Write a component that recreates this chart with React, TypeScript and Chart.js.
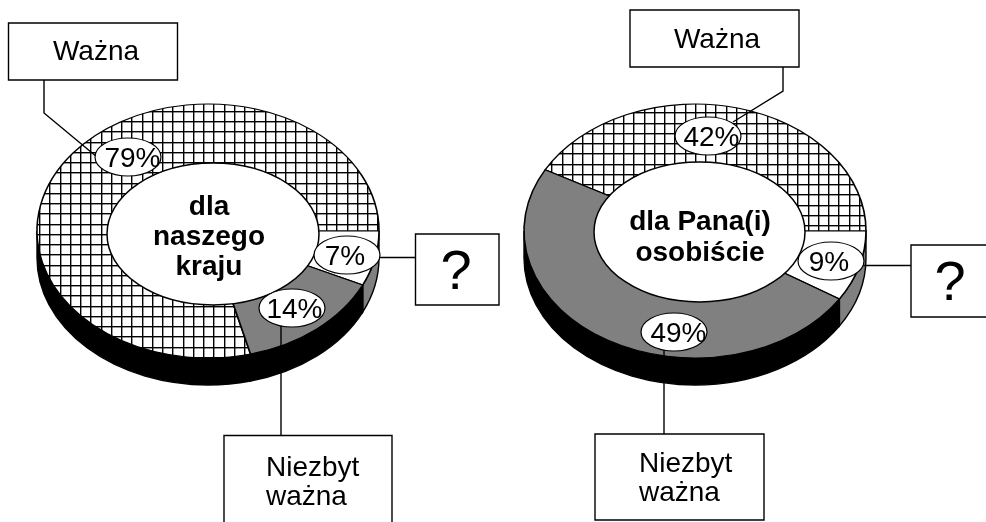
import React, { useEffect, useRef } from "react";
import { Chart, registerables } from "chart.js";

Chart.register(...registerables);

const categories = ["Ważna", "?", "Niezbyt ważna"];
const countryValues = [79, 7, 14];
const personalValues = [42, 9, 49];
const countryTitle = ["dla", "naszego", "kraju"];
const personalTitle = ["dla Pana(i)", "osobiście"];
const sideColors = ["#000000", "#808080", "#000000"];

const FONT = '"Liberation Sans", Arial, sans-serif';
const W = 986;
const H = 522;
const K = 127 / 171;
const DEPTH = 27;

type Callout = {
  pill: [number, number];
  pillTextX: number;
  box: [number, number, number, number];
  text: [number, number];
  align: CanvasTextAlign;
  size: number;
  leader: [number, number][];
};

const countryLayout = {
  cx: 208,
  cy: 231,
  hole: [213, 234, 106, 71],
  titleX: 209,
  titleY: [215, 245, 275],
  phase: [29, 29],
  callouts: [
    { pill: [128, 157], pillTextX: 132.5, box: [8.5, 23, 169, 57], text: [96, 60], align: "center", size: 28, leader: [[44, 80], [44, 113], [97, 157]] },
    { pill: [347, 255], pillTextX: 345, box: [415.5, 234, 83.5, 71], text: [456, 289], align: "center", size: 56, leader: [[378, 257.5], [416, 257.5]] },
    { pill: [292, 308], pillTextX: 294.5, box: [224, 435.5, 168, 120], text: [266, 476], align: "left", size: 28, leader: [[281, 326], [281, 436]] },
  ] as Callout[],
};

const personalLayout = {
  cx: 695,
  cy: 231,
  hole: [699.5, 232, 105.5, 70],
  titleX: 700,
  titleY: [230, 261],
  phase: [39, 10],
  callouts: [
    { pill: [708, 136], pillTextX: 711.5, box: [630, 10, 169, 57], text: [717, 48], align: "center", size: 28, leader: [[783, 67], [783, 91], [733, 122]] },
    { pill: [831, 261], pillTextX: 829, box: [911, 245, 100, 72], text: [950, 300], align: "center", size: 56, leader: [[862, 265.5], [911, 265.5]] },
    { pill: [674, 332], pillTextX: 678.5, box: [595, 434, 169, 86], text: [639, 472], align: "left", size: 28, leader: [[664, 350], [664, 434]] },
  ] as Callout[],
};

function makeHatch(ctx: CanvasRenderingContext2D, L: typeof countryLayout) {
  const tile = document.createElement("canvas");
  tile.width = 41;
  tile.height = 41;
  const t = tile.getContext("2d")!;
  t.fillStyle = "#ffffff";
  t.fillRect(0, 0, 41, 41);
  t.fillStyle = "#000000";
  [0, 10, 20, 31].forEach((p) => {
    t.fillRect(p, 0, 1.4, 41);
    t.fillRect(0, p, 41, 1.4);
  });
  const pattern = ctx.createPattern(tile, "repeat")!;
  pattern.setTransform(
    new DOMMatrix()
      .translate(L.cx, L.cy)
      .scale(1, 1 / K)
      .translate(-L.cx, -L.cy)
      .translate(L.phase[0], L.phase[1])
  );
  return pattern;
}

function drawBox(ctx: CanvasRenderingContext2D, c: Callout, lines: string[]) {
  ctx.strokeStyle = "#000";
  ctx.lineWidth = 1.4;
  ctx.fillStyle = "#fff";
  ctx.beginPath();
  ctx.rect(c.box[0], c.box[1], c.box[2], c.box[3]);
  ctx.fill();
  ctx.stroke();
  ctx.fillStyle = "#000";
  ctx.font = `${c.size}px ${FONT}`;
  ctx.textAlign = c.align;
  ctx.textBaseline = "alphabetic";
  lines.forEach((l, i) => ctx.fillText(l, c.text[0], c.text[1] + i * 29));
}

const ringPlugin = {
  id: "ring",
  beforeDatasetsDraw(chart: any, _a: any, o: any) {
    const L = o.layout;
    const ctx: CanvasRenderingContext2D = chart.ctx;
    const arcs = chart.getDatasetMeta(0).data;
    const r = 171;
    const ry = r * K;
    ctx.save();
    arcs.forEach((arc: any, i: number) => {
      const norm = (a: number) => ((a % (2 * Math.PI)) + 2 * Math.PI) % (2 * Math.PI);
      const s = norm(arc.startAngle);
      const e = s + (arc.endAngle - arc.startAngle);
      [[s, e], [s - 2 * Math.PI, e - 2 * Math.PI]].forEach(([a, b]) => {
        const a1 = Math.max(a, 0);
        const a2 = Math.min(b, Math.PI);
        if (a2 <= a1) return;
        ctx.beginPath();
        ctx.ellipse(L.cx, L.cy, r, ry, 0, a1, a2);
        ctx.ellipse(L.cx, L.cy + DEPTH, r, ry, 0, a2, a1, true);
        ctx.closePath();
        ctx.fillStyle = sideColors[i];
        ctx.strokeStyle = "#000";
        ctx.lineWidth = 1.4;
        ctx.fill();
        ctx.stroke();
      });
    });
    ctx.restore();
    ctx.save();
    ctx.translate(L.cx, L.cy);
    ctx.scale(1, K);
    ctx.translate(-L.cx, -L.cy);
  },
  afterDatasetsDraw(chart: any, _a: any, o: any) {
    const ctx: CanvasRenderingContext2D = chart.ctx;
    ctx.restore();
    const L = o.layout;
    const values: number[] = chart.data.datasets[0].data;

    ctx.save();
    ctx.strokeStyle = "#000";
    ctx.lineWidth = 1.5;
    ctx.fillStyle = "#fff";
    ctx.beginPath();
    ctx.ellipse(L.hole[0], L.hole[1], L.hole[2], L.hole[3], 0, 0, 2 * Math.PI);
    ctx.fill();
    ctx.stroke();

    ctx.fillStyle = "#000";
    ctx.font = `bold 28px ${FONT}`;
    ctx.textAlign = "center";
    ctx.textBaseline = "alphabetic";
    o.title.forEach((t: string, i: number) => ctx.fillText(t, L.titleX, L.titleY[i]));

    L.callouts.forEach((c: Callout, i: number) => {
      ctx.strokeStyle = "#000";
      ctx.lineWidth = 1.4;
      ctx.beginPath();
      c.leader.forEach((p, j) => (j ? ctx.lineTo(p[0], p[1]) : ctx.moveTo(p[0], p[1])));
      ctx.stroke();

      const isLast = i === 2;
      const label = categories[i];
      drawBox(ctx, c, isLast ? label.split(" ") : [label]);

      ctx.fillStyle = "#fff";
      ctx.strokeStyle = "#000";
      ctx.lineWidth = 1.2;
      ctx.beginPath();
      ctx.ellipse(c.pill[0], c.pill[1], 33, 19, 0, 0, 2 * Math.PI);
      ctx.fill();
      ctx.stroke();
      ctx.fillStyle = "#000";
      ctx.font = `28px ${FONT}`;
      ctx.textAlign = "center";
      ctx.fillText(`${values[i]}%`, c.pillTextX, c.pill[1] + 10);
    });
    ctx.restore();
  },
};

function makeChart(canvas: HTMLCanvasElement, values: number[], title: string[], L: typeof countryLayout) {
  const ctx = canvas.getContext("2d")!;
  const rotation = 90 + (360 - values[0] * 3.6);
  return new Chart(ctx, {
    type: "doughnut",
    data: {
      labels: categories,
      datasets: [
        {
          data: values,
          backgroundColor: [makeHatch(ctx, L), "#ffffff", "#808080"],
          borderColor: "#000000",
          borderWidth: 1.6,
          clip: false,
        } as any,
      ],
    },
    options: {
      responsive: false,
      animation: false,
      rotation,
      cutout: 0,
      radius: 171,
      layout: {
        padding: L.cx < W / 2
          ? { left: 0, right: W - 2 * L.cx, top: 0, bottom: H - 2 * L.cy }
          : { left: 2 * L.cx - W, right: 0, top: 0, bottom: H - 2 * L.cy },
      },
      plugins: {
        legend: { display: false },
        tooltip: { enabled: false },
        ring: { layout: L, title },
      } as any,
    },
    plugins: [ringPlugin as any],
  });
}

export default function App() {
  const leftRef = useRef<HTMLCanvasElement>(null);
  const rightRef = useRef<HTMLCanvasElement>(null);
  useEffect(() => {
    const a = makeChart(leftRef.current!, countryValues, countryTitle, countryLayout);
    const b = makeChart(rightRef.current!, personalValues, personalTitle, personalLayout);
    return () => {
      a.destroy();
      b.destroy();
    };
  }, []);
  const style: React.CSSProperties = { position: "absolute", left: 0, top: 0, display: "block" };
  return (
    <div style={{ position: "absolute", left: 0, top: 0, width: W, height: H, overflow: "hidden", background: "#fff" }}>
      <canvas ref={leftRef} width={W} height={H} style={style} />
      <canvas ref={rightRef} width={W} height={H} style={style} />
    </div>
  );
}
